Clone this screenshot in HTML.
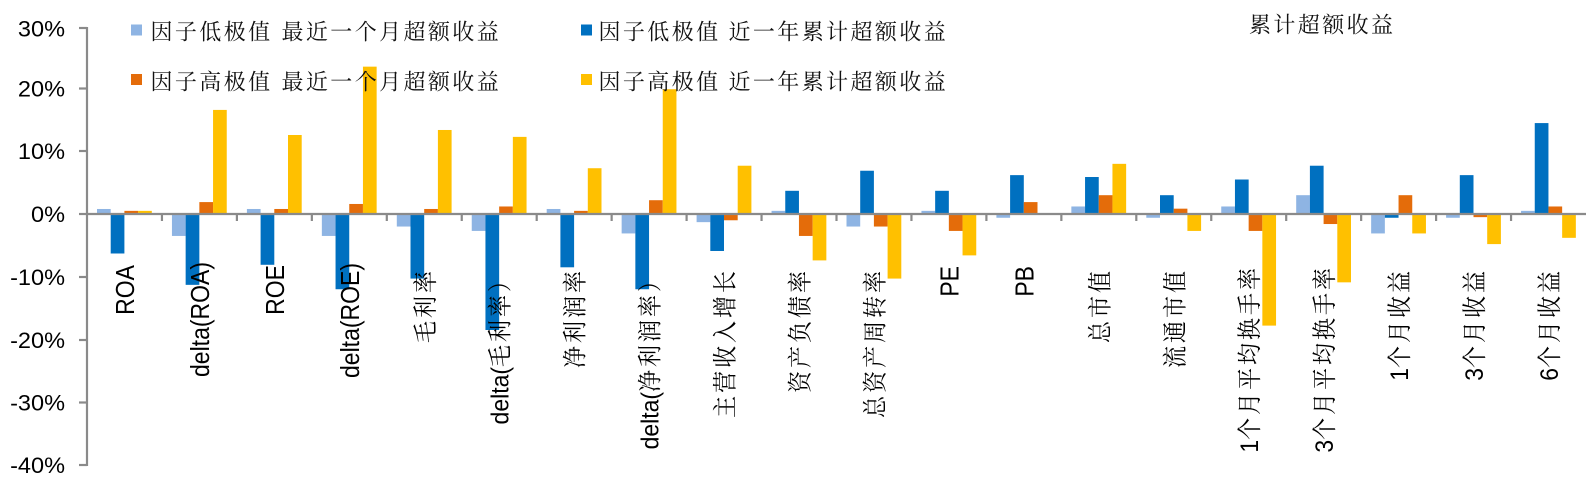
<!DOCTYPE html>
<html><head><meta charset="utf-8"><style>
html,body{margin:0;padding:0;background:#fff;}
svg{display:block;}
.yl{font-family:"Liberation Sans",sans-serif;font-size:22px;fill:#000;}
.lg{font-family:"Liberation Serif","Noto Serif CJK SC",serif;font-size:22px;letter-spacing:2.4px;fill:#111;}
.cl{font-family:"Liberation Sans","Noto Serif CJK SC",sans-serif;font-size:23px;fill:#000;}
.cj{font-family:"Noto Serif CJK SC",serif;font-size:22px;letter-spacing:3px;}
</style></head><body>
<svg width="1593" height="480" viewBox="0 0 1593 480" xmlns="http://www.w3.org/2000/svg">
<rect width="1593" height="480" fill="#fff"/>

<!-- bars: light blue -->
<g fill="#8EB4E3">
<rect x="97.00" y="208.98" width="13.7" height="5.02"/>
<rect x="171.95" y="214" width="13.7" height="21.95"/>
<rect x="246.90" y="208.98" width="13.7" height="5.02"/>
<rect x="321.85" y="214" width="13.7" height="21.95"/>
<rect x="396.80" y="214" width="13.7" height="12.54"/>
<rect x="471.75" y="214" width="13.7" height="16.93"/>
<rect x="546.70" y="208.98" width="13.7" height="5.02"/>
<rect x="621.65" y="214" width="13.7" height="19.44"/>
<rect x="696.60" y="214" width="13.7" height="8.15"/>
<rect x="771.55" y="210.86" width="13.7" height="3.14"/>
<rect x="846.50" y="214" width="13.7" height="12.54"/>
<rect x="921.45" y="210.86" width="13.7" height="3.14"/>
<rect x="996.40" y="214" width="13.7" height="3.76"/>
<rect x="1071.35" y="206.48" width="13.7" height="7.52"/>
<rect x="1146.30" y="214" width="13.7" height="3.76"/>
<rect x="1221.25" y="206.48" width="13.7" height="7.52"/>
<rect x="1296.20" y="195.19" width="13.7" height="18.81"/>
<rect x="1371.15" y="214" width="13.7" height="19.44"/>
<rect x="1446.10" y="214" width="13.7" height="3.76"/>
<rect x="1521.05" y="210.86" width="13.7" height="3.14"/>
</g>
<!-- bars: dark blue -->
<g fill="#0070C0">
<rect x="110.70" y="214" width="13.7" height="39.5"/>
<rect x="185.65" y="214" width="13.7" height="70.85"/>
<rect x="260.60" y="214" width="13.7" height="50.79"/>
<rect x="335.55" y="214" width="13.7" height="75.24"/>
<rect x="410.50" y="214" width="13.7" height="64.58"/>
<rect x="485.45" y="214" width="13.7" height="116.0"/>
<rect x="560.40" y="214" width="13.7" height="53.3"/>
<rect x="635.35" y="214" width="13.7" height="75.24"/>
<rect x="710.30" y="214" width="13.7" height="36.99"/>
<rect x="785.25" y="190.8" width="13.7" height="23.2"/>
<rect x="860.20" y="170.74" width="13.7" height="43.26"/>
<rect x="935.15" y="190.8" width="13.7" height="23.2"/>
<rect x="1010.10" y="175.13" width="13.7" height="38.87"/>
<rect x="1085.05" y="177.01" width="13.7" height="36.99"/>
<rect x="1160.00" y="195.19" width="13.7" height="18.81"/>
<rect x="1234.95" y="179.51" width="13.7" height="34.49"/>
<rect x="1309.90" y="165.72" width="13.7" height="48.28"/>
<rect x="1384.85" y="214" width="13.7" height="3.76"/>
<rect x="1459.80" y="175.13" width="13.7" height="38.87"/>
<rect x="1534.75" y="123.08" width="13.7" height="90.92"/>
</g>
<!-- bars: orange -->
<g fill="#E46C0A">
<rect x="124.40" y="210.86" width="13.7" height="3.14"/>
<rect x="199.35" y="202.09" width="13.7" height="11.91"/>
<rect x="274.30" y="208.98" width="13.7" height="5.02"/>
<rect x="349.25" y="203.97" width="13.7" height="10.03"/>
<rect x="424.20" y="208.98" width="13.7" height="5.02"/>
<rect x="499.15" y="206.48" width="13.7" height="7.52"/>
<rect x="574.10" y="210.86" width="13.7" height="3.14"/>
<rect x="649.05" y="200.21" width="13.7" height="13.79"/>
<rect x="724.00" y="214" width="13.7" height="6.27"/>
<rect x="798.95" y="214" width="13.7" height="21.95"/>
<rect x="873.90" y="214" width="13.7" height="12.54"/>
<rect x="948.85" y="214" width="13.7" height="16.93"/>
<rect x="1023.80" y="202.09" width="13.7" height="11.91"/>
<rect x="1098.75" y="195.19" width="13.7" height="18.81"/>
<rect x="1173.70" y="208.67" width="13.7" height="5.33"/>
<rect x="1248.65" y="214" width="13.7" height="16.93"/>
<rect x="1323.60" y="214" width="13.7" height="10.03"/>
<rect x="1398.55" y="195.19" width="13.7" height="18.81"/>
<rect x="1473.50" y="214" width="13.7" height="3.14"/>
<rect x="1548.45" y="206.48" width="13.7" height="7.52"/>
</g>
<!-- bars: yellow -->
<g fill="#FFC000">
<rect x="138.10" y="210.86" width="13.7" height="3.14"/>
<rect x="213.05" y="109.92" width="13.7" height="104.08"/>
<rect x="288.00" y="135.0" width="13.7" height="79.0"/>
<rect x="362.95" y="66.65" width="13.7" height="147.35"/>
<rect x="437.90" y="129.98" width="13.7" height="84.02"/>
<rect x="512.85" y="136.88" width="13.7" height="77.12"/>
<rect x="587.80" y="168.23" width="13.7" height="45.77"/>
<rect x="662.75" y="89.23" width="13.7" height="124.77"/>
<rect x="737.70" y="165.72" width="13.7" height="48.28"/>
<rect x="812.65" y="214" width="13.7" height="46.4"/>
<rect x="887.60" y="214" width="13.7" height="64.58"/>
<rect x="962.55" y="214" width="13.7" height="41.38"/>
<rect x="1037.50" y="213.0" width="13.7" height="1.0"/>
<rect x="1112.45" y="163.84" width="13.7" height="50.16"/>
<rect x="1187.40" y="214" width="13.7" height="16.93"/>
<rect x="1262.35" y="214" width="13.7" height="111.61"/>
<rect x="1337.30" y="214" width="13.7" height="68.34"/>
<rect x="1412.25" y="214" width="13.7" height="19.44"/>
<rect x="1487.20" y="214" width="13.7" height="30.1"/>
<rect x="1562.15" y="214" width="13.7" height="23.83"/>
</g>

<!-- axes -->
<g stroke="#8A8A8A" stroke-width="2.2" fill="none">
<line x1="87" y1="27" x2="87" y2="466"/>
<line x1="79" y1="28" x2="87" y2="28"/>
<line x1="79" y1="88.5" x2="87" y2="88.5"/>
<line x1="79" y1="151" x2="87" y2="151"/>
<line x1="79" y1="214" x2="87" y2="214"/>
<line x1="79" y1="277" x2="87" y2="277"/>
<line x1="79" y1="340" x2="87" y2="340"/>
<line x1="79" y1="402.5" x2="87" y2="402.5"/>
<line x1="79" y1="465" x2="87" y2="465"/>
<line x1="87" y1="214" x2="1586" y2="214"/>
<line x1="161.95" y1="214" x2="161.95" y2="221"/>
<line x1="236.90" y1="214" x2="236.90" y2="221"/>
<line x1="311.85" y1="214" x2="311.85" y2="221"/>
<line x1="386.80" y1="214" x2="386.80" y2="221"/>
<line x1="461.75" y1="214" x2="461.75" y2="221"/>
<line x1="536.70" y1="214" x2="536.70" y2="221"/>
<line x1="611.65" y1="214" x2="611.65" y2="221"/>
<line x1="686.60" y1="214" x2="686.60" y2="221"/>
<line x1="761.55" y1="214" x2="761.55" y2="221"/>
<line x1="836.50" y1="214" x2="836.50" y2="221"/>
<line x1="911.45" y1="214" x2="911.45" y2="221"/>
<line x1="986.40" y1="214" x2="986.40" y2="221"/>
<line x1="1061.35" y1="214" x2="1061.35" y2="221"/>
<line x1="1136.30" y1="214" x2="1136.30" y2="221"/>
<line x1="1211.25" y1="214" x2="1211.25" y2="221"/>
<line x1="1286.20" y1="214" x2="1286.20" y2="221"/>
<line x1="1361.15" y1="214" x2="1361.15" y2="221"/>
<line x1="1436.10" y1="214" x2="1436.10" y2="221"/>
<line x1="1511.05" y1="214" x2="1511.05" y2="221"/>
</g>

<!-- y labels -->
<g class="yl" text-anchor="end">
<text transform="translate(65,36.5) scale(1.07,1)">30%</text>
<text transform="translate(65,96.5) scale(1.07,1)">20%</text>
<text transform="translate(65,159) scale(1.07,1)">10%</text>
<text transform="translate(65,222) scale(1.07,1)">0%</text>
<text transform="translate(65,285) scale(1.07,1)">-10%</text>
<text transform="translate(65,348) scale(1.07,1)">-20%</text>
<text transform="translate(65,410.5) scale(1.07,1)">-30%</text>
<text transform="translate(65,473) scale(1.07,1)">-40%</text>
</g>

<!-- category labels -->
<g class="cl" text-anchor="end">
<text transform="translate(134,265) scale(1.13,1) rotate(-90)">ROA</text>
<text transform="translate(208.9,262) scale(1.13,1) rotate(-90)">delta(ROA)</text>
<text transform="translate(283.9,265) scale(1.13,1) rotate(-90)">ROE</text>
<text transform="translate(358.8,263) scale(1.13,1) rotate(-90)">delta(ROE)</text>
<text transform="translate(433.8,268) scale(1.1,1) rotate(-90)"><tspan class="cj">毛利率</tspan></text>
<text transform="translate(508.7,267) scale(1.1,1) rotate(-90)">delta(<tspan class="cj">毛利率）</tspan></text>
<text transform="translate(583.7,268) scale(1.1,1) rotate(-90)"><tspan class="cj">净利润率</tspan></text>
<text transform="translate(658.6,267) scale(1.1,1) rotate(-90)">delta(<tspan class="cj">净利润率）</tspan></text>
<text transform="translate(733.6,268) scale(1.1,1) rotate(-90)"><tspan class="cj">主营收入增长</tspan></text>
<text transform="translate(808.5,268) scale(1.1,1) rotate(-90)"><tspan class="cj">资产负债率</tspan></text>
<text transform="translate(883.5,268) scale(1.1,1) rotate(-90)"><tspan class="cj">总资产周转率</tspan></text>
<text transform="translate(958.4,266) scale(1.13,1) rotate(-90)">PE</text>
<text transform="translate(1033.4,266) scale(1.13,1) rotate(-90)">PB</text>
<text transform="translate(1108.3,268) scale(1.1,1) rotate(-90)"><tspan class="cj">总市值</tspan></text>
<text transform="translate(1183.3,268) scale(1.1,1) rotate(-90)"><tspan class="cj">流通市值</tspan></text>
<text transform="translate(1258.2,265) scale(1.1,1) rotate(-90)">1<tspan class="cj">个月平均换手率</tspan></text>
<text transform="translate(1333.2,265) scale(1.1,1) rotate(-90)">3<tspan class="cj">个月平均换手率</tspan></text>
<text transform="translate(1408.1,268) scale(1.1,1) rotate(-90)">1<tspan class="cj">个月收益</tspan></text>
<text transform="translate(1483.1,268) scale(1.1,1) rotate(-90)">3<tspan class="cj">个月收益</tspan></text>
<text transform="translate(1558.0,268) scale(1.1,1) rotate(-90)">6<tspan class="cj">个月收益</tspan></text>
</g>

<!-- legend -->
<rect x="131" y="24.5" width="11" height="11" fill="#8EB4E3"/>
<rect x="581" y="24.5" width="11" height="11" fill="#0070C0"/>
<rect x="131" y="74" width="11" height="11" fill="#E46C0A"/>
<rect x="581" y="74" width="11" height="11" fill="#FFC000"/>
<g class="lg">
<text x="150.5" y="39.5">因子低极值</text>
<text x="281.5" y="39.5">最近一个月超额收益</text>
<text x="598.5" y="39.5">因子低极值</text>
<text x="728.5" y="39.5">近一年累计超额收益</text>
<text x="150.5" y="89.5">因子高极值</text>
<text x="281.5" y="89.5">最近一个月超额收益</text>
<text x="598.5" y="89.5">因子高极值</text>
<text x="728.5" y="89.5">近一年累计超额收益</text>
<text x="1249" y="32.5">累计超额收益</text>
</g>
</svg>
</body></html>
